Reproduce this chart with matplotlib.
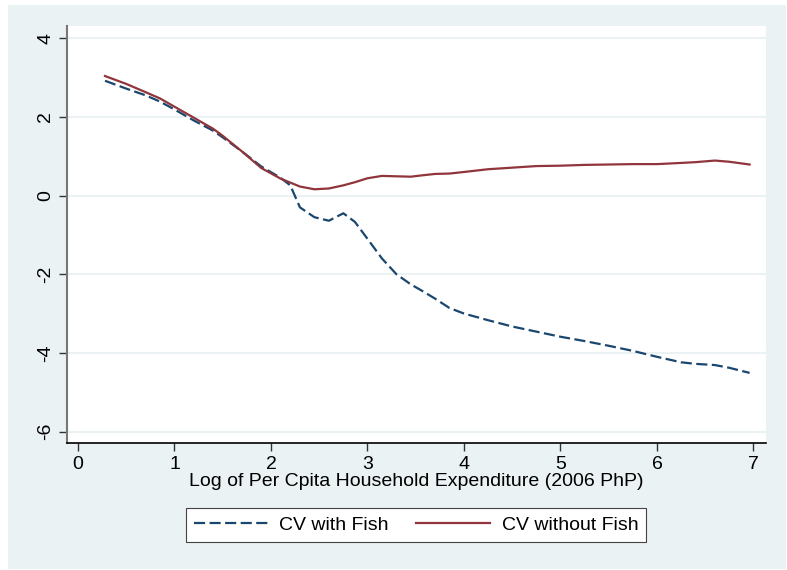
import matplotlib
matplotlib.use("Agg")
import matplotlib.pyplot as plt
from matplotlib.patches import Rectangle

plt.rcParams["font.family"] = ["Liberation Sans", "DejaVu Sans"]

# log per capita expenditure (x) and compensating variation
log_exp = [0.28, 0.5, 0.7, 0.85, 1.0, 1.2, 1.4, 1.5, 1.7, 1.9, 2.1, 2.2, 2.3, 2.45,
           2.6, 2.75, 2.87, 3.0, 3.15, 3.3, 3.45, 3.55, 3.7, 3.85, 4.0, 4.25, 4.5,
           4.75, 5.0, 5.25, 5.5, 5.75, 6.0, 6.25, 6.4, 6.6, 6.75, 6.96]
cv_with_fish = [2.92, 2.72, 2.55, 2.39, 2.19, 1.91, 1.65, 1.48, 1.12, 0.74, 0.45, 0.26,
                -0.30, -0.55, -0.64, -0.45, -0.67, -1.10, -1.60, -2.00, -2.26, -2.40,
                -2.62, -2.86, -3.00, -3.17, -3.33, -3.46, -3.59, -3.70, -3.82, -3.95,
                -4.10, -4.24, -4.28, -4.31, -4.38, -4.51]
cv_without_fish = [3.04, 2.84, 2.63, 2.47, 2.26, 1.98, 1.70, 1.52, 1.12, 0.70, 0.43, 0.33,
                   0.23, 0.16, 0.18, 0.26, 0.34, 0.44, 0.50, 0.49, 0.48, 0.51, 0.55, 0.56,
                   0.60, 0.67, 0.71, 0.75, 0.76, 0.78, 0.79, 0.80, 0.80, 0.83, 0.85, 0.89,
                   0.86, 0.79]
x_ticks = [0, 1, 2, 3, 4, 5, 6, 7]
y_ticks = [-6, -4, -2, 0, 2, 4]

BG = "#EAF2F3"
NAVY = "#1A476F"
MAROON = "#90353B"

fig = plt.figure(figsize=(7.87, 5.70), dpi=100, facecolor="white")
# stata-like graph region
fig.patches.append(Rectangle((8 / 787, 1 / 570), 778 / 787, 564 / 570, transform=fig.transFigure,
                             facecolor=BG, edgecolor="none", zorder=-10))

ax = fig.add_axes([66.7 / 787, 1 - 443.3 / 570, (766 - 66.7) / 787, (443.3 - 25.7) / 570])
ax.set_facecolor("white")

ax.plot(log_exp, cv_with_fish, color=NAVY, lw=1.6, linestyle=(0, (5, 2)), label="CV with Fish")
ax.plot(log_exp, cv_without_fish, color=MAROON, lw=1.6, label="CV without Fish")

ax.set_xlim(-0.117, 7.13)
ax.set_ylim(-6.30, 4.32)
ax.set_xticks(x_ticks)
ax.set_yticks(y_ticks)
ax.set_yticklabels([str(v) for v in y_ticks], rotation=90, va="center")
ax.tick_params(labelsize=14, length=6, width=1, color="#333333", pad=3)

for y in y_ticks:
    ax.axhline(y, color=BG, lw=1.5, zorder=0)

ax.spines["top"].set_visible(False)
ax.spines["right"].set_visible(False)
ax.spines["left"].set_color("#777777")
ax.spines["left"].set_linewidth(1.5)
ax.spines["bottom"].set_color("black")
ax.spines["bottom"].set_linewidth(1.2)

ax.set_xlabel("Log of Per Cpita Household Expenditure (2006 PhP)", fontsize=14, labelpad=0)

leg = fig.legend(loc="center", bbox_to_anchor=(416 / 787, 1 - 525 / 570), ncol=2,
                 fontsize=14, frameon=True, fancybox=False, handlelength=3.8,
                 handletextpad=0.6, columnspacing=1.4, borderpad=0.4)
leg.get_frame().set_edgecolor("#444444")
leg.get_frame().set_linewidth(0.8)
leg.get_frame().set_facecolor("white")
leg.get_frame().set_alpha(1)

fig.savefig("out.png", dpi=100, facecolor=fig.get_facecolor())
